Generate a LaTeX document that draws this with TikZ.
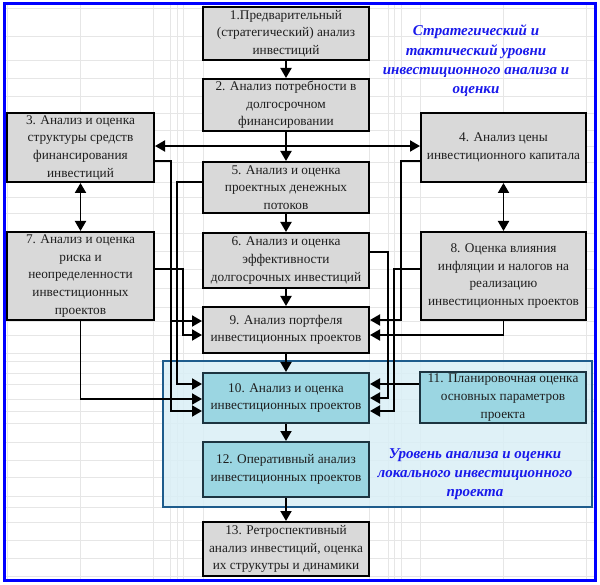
\documentclass[tikz,border=0pt]{standalone}
\usepackage{fontspec}
\setmainfont{Liberation Serif}
\usetikzlibrary{arrows.meta}
\definecolor{boxgray}{RGB}{217,217,217}
\definecolor{boxcyan}{RGB}{155,214,226}
\definecolor{cyanedge}{RGB}{28,52,64}
\definecolor{textdark}{RGB}{30,30,30}
\definecolor{titleblue}{RGB}{25,25,235}
\definecolor{regionfill}{RGB}{218,239,246}
\definecolor{regionedge}{RGB}{30,92,140}
\definecolor{gridc}{RGB}{230,230,230}
\begin{document}
\begin{tikzpicture}[x=1pt,y=-1pt,
 every node/.style={inner sep=0pt},
 gbox/.style={draw=black, line width=2pt, fill=boxgray, align=center,
   font=\fontsize{13.3}{17.6}\selectfont, text=textdark},
 cbox/.style={gbox, fill=boxcyan, draw=cyanedge},
 tip/.tip={Triangle[length=10pt,width=11pt]},
 arr/.style={line width=1.9pt, -tip},
 dbl/.style={line width=1.9pt, tip-tip},
 titletext/.style={font=\fontsize{15}{19.3}\selectfont\bfseries\itshape, text=titleblue, align=center},
 gridline/.style={draw=gridc, line width=0.8pt}
]
\fill[white] (0,0) rectangle (600,585);
\useasboundingbox (0,0) rectangle (600,585);
% spreadsheet grid
\foreach \x in {7,80,153,170,177,183,203,369,388,394,401,420,503,586}
  \draw[gridline] (\x,4) -- (\x,580);
\foreach \y in {8,36,60,78,96,113,130,146,162,182,197,213,233,251,269,288,307,321,335,353,361,373,384,399,411,423,442,460,477,496,507,522,540,558,576}
  \draw[gridline] (4,\y) -- (595,\y);
% outer border
\draw[blue, line width=3pt] (4.2,3.2) rectangle (595,580);
% local level region
\fill[regionfill, fill opacity=0.85] (163,361) rectangle (592,507);
\draw[regionedge, line width=2pt] (163,361) rectangle (592,507);

% boxes
\node[gbox, minimum width=166pt, minimum height=53pt] (b1) at (286,33.5)
  {1.Предварительный\\(стратегический) анализ\\инвестиций};
\node[gbox, minimum width=166pt, minimum height=52pt] (b2) at (286,105)
  {2. Анализ потребности в\\долгосрочном\\финансировании};
\node[gbox, minimum width=147pt, minimum height=69pt] (b3) at (80.5,147.5)
  {3. Анализ и оценка\\структуры средств\\финансирования\\инвестиций};
\node[gbox, minimum width=165pt, minimum height=69pt] (b4) at (503.5,147.5)
  {4. Анализ цены\\инвестиционного капитала};
\node[gbox, minimum width=166pt, minimum height=51pt] (b5) at (286,187.5)
  {5. Анализ и оценка\\проектных денежных\\потоков};
\node[gbox, minimum width=166pt, minimum height=55pt] (b6) at (286,260.5)
  {6. Анализ и оценка\\эффективности\\долгосрочных инвестиций};
\node[gbox, minimum width=147pt, minimum height=88pt] (b7) at (80.5,276)
  {7. Анализ и оценка\\риска и\\неопределенности\\инвестиционных\\проектов};
\node[gbox, minimum width=165pt, minimum height=88pt] (b8) at (503.5,276)
  {8. Оценка влияния\\инфляции и налогов на\\реализацию\\инвестиционных проектов};
\node[gbox, minimum width=166pt, minimum height=46pt] (b9) at (286,330)
  {9. Анализ портфеля\\инвестиционных проектов};
\node[cbox, minimum width=166pt, minimum height=50pt] (b10) at (286,398)
  {10. Анализ и оценка\\инвестиционных проектов};
\node[cbox, minimum width=166pt, minimum height=51pt] (b11) at (503,397.5)
  {11. Планировочная оценка\\основных параметров\\проекта};
\node[cbox, minimum width=166pt, minimum height=55pt] (b12) at (286,469.5)
  {12. Оперативный анализ\\инвестиционных проектов};
\node[gbox, minimum width=166pt, minimum height=54pt] (b13) at (286,549)
  {13. Ретроспективный\\анализ инвестиций, оценка\\их струкутры и динамики};

% titles
\node[titletext] (t1) at (476,61)
  {Стратегический и\\тактический уровни\\инвестиционного анализа и\\оценки};
\node[titletext] (t2) at (475,474)
  {Уровень анализа и оценки\\локального инвестиционного\\проекта};

% central chain
\draw[arr] (b1) -- (b2);
\draw[arr] (b2) -- (b5);
\draw[arr] (b5) -- (b6);
\draw[arr] (b6) -- (b9);
\draw[arr] (b9) -- (b10);
\draw[arr] (b10) -- (b12);
\draw[arr] (b12) -- (b13);
% horizontal double arrow and verticals
\draw[dbl] (b3.east |- 0,146) -- (b4.west |- 0,146);
\draw[dbl] (b3) -- (b7);
\draw[dbl] (b4) -- (b8);
% left side
\draw[arr] (b3.east |- 0,161) -- (171,161) -- (171,411) -- (b10.west |- 0,411);
\draw[arr] (171,321) -- (b9.west |- 0,321);
\draw[arr] (b5.west |- 0,182) -- (177,182) -- (177,384) -- (b10.west |- 0,384);
\draw[arr] (b7.east |- 0,269) -- (183,269) -- (183,335) -- (b9.west |- 0,335);
\draw[arr] (b7.south) -- (b7.south |- 0,399) -- (b10.west |- 0,399);
% right side
\draw[arr] (b4.west |- 0,161) -- (401,161) -- (401,320) -- (b9.east |- 0,320);
\draw[arr] (b6.east |- 0,252) -- (388,252) -- (388,398) -- (b10.east |- 0,398);
\draw[arr] (b8.west |- 0,269) -- (394,269) -- (394,411) -- (b10.east |- 0,411);
\draw[arr] (b8.south) -- (b8.south |- 0,335) -- (b9.east |- 0,335);
\draw[arr] (b11.west |- 0,384) -- (b10.east |- 0,384);
\end{tikzpicture}
\end{document}
